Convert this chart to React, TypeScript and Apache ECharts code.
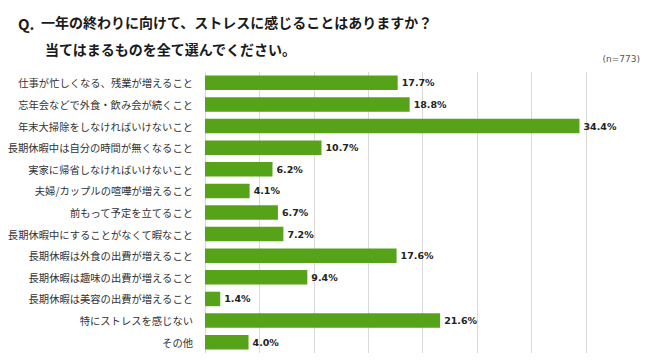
import React, { useEffect, useRef } from "react";
import * as echarts from "echarts";

const categories: string[] = [
  "仕事が忙しくなる、残業が増えること",
  "忘年会などで外食・飲み会が続くこと",
  "年末大掃除をしなければいけないこと",
  "長期休暇中は自分の時間が無くなること",
  "実家に帰省しなければいけないこと",
  "夫婦/カップルの喧嘩が増えること",
  "前もって予定を立てること",
  "長期休暇中にすることがなくて暇なこと",
  "長期休暇は外食の出費が増えること",
  "長期休暇は趣味の出費が増えること",
  "長期休暇は美容の出費が増えること",
  "特にストレスを感じない",
  "その他",
];

const values: number[] = [17.7, 18.8, 34.4, 10.7, 6.2, 4.1, 6.7, 7.2, 17.6, 9.4, 1.4, 21.6, 4.0];

const titleQ = "Q.";
const titleLine1 = "一年の終わりに向けて、ストレスに感じることはありますか？";
const titleLine2 = "当てはまるものを全て選んでください。";
const sampleNote = "(n=773)";

export default function App() {
  const ref = useRef<HTMLDivElement>(null);
  useEffect(() => {
    if (!ref.current) return;
    const chart = echarts.init(ref.current, null, { renderer: "svg" });
    const jp = '"Noto Sans CJK JP", "Noto Sans", sans-serif';
    chart.setOption({
      animation: false,
      backgroundColor: "#ffffff",
      graphic: [
        {
          type: "text",
          left: 18,
          top: 16,
          style: { text: titleQ, font: `bold 15px ${jp}`, fill: "#1a1a1a" },
        },
        {
          type: "text",
          left: 41,
          top: 15,
          style: { text: titleLine1, font: `bold 14px ${jp}`, fill: "#1a1a1a" },
        },
        {
          type: "text",
          left: 45,
          top: 42,
          style: { text: titleLine2, font: `bold 14px ${jp}`, fill: "#1a1a1a" },
        },
        {
          type: "text",
          right: 10,
          top: 54,
          style: { text: sampleNote, font: '9px "DejaVu Sans", sans-serif', fill: "#555555" },
        },
      ],
      grid: { left: 205, right: 64, top: 72, bottom: 9 },
      xAxis: {
        type: "value",
        min: 0,
        max: 35,
        interval: 5,
        axisLabel: { show: false },
        axisLine: { show: false },
        axisTick: { show: false },
        splitLine: { show: true, lineStyle: { color: "#d9d9d9", width: 1 } },
      },
      yAxis: {
        type: "category",
        data: categories,
        inverse: true,
        axisLine: { show: true, lineStyle: { color: "#d9d9d9" } },
        axisTick: { show: false },
        axisLabel: {
          margin: 12,
          fontSize: 10.3,
          fontFamily: jp,
          color: "#333333",
        },
      },
      series: [
        {
          type: "bar",
          data: values,
          barWidth: "67%",
          itemStyle: { color: "#56a31a" },
          label: {
            show: true,
            position: "right",
            distance: 4,
            formatter: (p: any) => `${Number(p.value).toFixed(1)}%`,
            fontFamily: '"DejaVu Sans", Verdana, sans-serif',
            fontWeight: "bold",
            fontSize: 9.5,
            color: "#222222",
          },
        },
      ],
    });
    return () => chart.dispose();
  }, []);
  return (
    <div
      ref={ref}
      style={{ position: "fixed", left: 0, top: 0, width: 650, height: 362 }}
    />
  );
}
